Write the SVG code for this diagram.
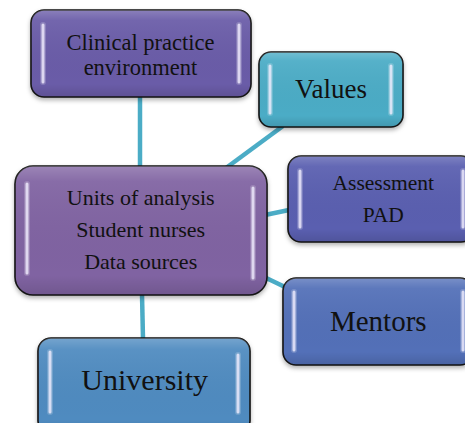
<svg xmlns="http://www.w3.org/2000/svg" width="465" height="423" viewBox="0 0 465 423">
<defs>
<filter id="sh" x="-10%" y="-10%" width="120%" height="130%">
<feDropShadow dx="0" dy="2.5" stdDeviation="2" flood-color="#000" flood-opacity="0.3"/>
</filter>
<linearGradient id="gloss" x1="0" y1="0" x2="0" y2="1">
<stop offset="0" stop-color="#fff" stop-opacity="0.22"/>
<stop offset="0.12" stop-color="#fff" stop-opacity="0.06"/>
<stop offset="0.85" stop-color="#000" stop-opacity="0"/>
<stop offset="1" stop-color="#000" stop-opacity="0.12"/>
</linearGradient>
</defs>
<style>
.box{stroke:#151515;stroke-width:1.6;filter:url(#sh)}
.gl{fill:url(#gloss);stroke:none}
.hl{stroke:#f2eeff;stroke-width:3;stroke-linecap:round;opacity:0.8}
.hl2{stroke:#ffffff;stroke-width:6;stroke-linecap:round;opacity:0.18}
.t{font-family:"Liberation Serif","Times New Roman",serif;fill:#111;text-anchor:middle}
.c{stroke:#4BACC6;stroke-width:4.5;fill:none}
</style>
<g id="connectors">
<line class="c" x1="140" y1="96" x2="140" y2="167"/>
<line class="c" x1="283" y1="126" x2="226" y2="168"/>
<line class="c" x1="265" y1="215" x2="289" y2="210"/>
<line class="c" x1="262" y1="276" x2="285" y2="287"/>
<line class="c" x1="142" y1="294" x2="143" y2="339"/>
</g>
<g id="clinical">
<rect class="box" x="31" y="10" width="220" height="87" rx="13" fill="#6B5CA8"/>
<rect class="gl" x="31" y="10" width="220" height="87" rx="13"/>
<path class="hl2" d="M43 25V82M239 25V82"/>
<path class="hl" d="M43 25V82M239 25V82"/>
<text class="t" x="140.5" y="50" font-size="22.5">Clinical practice</text>
<text class="t" x="140.5" y="74.5" font-size="22.5">environment</text>
</g>
<g id="values">
<rect class="box" x="259" y="52" width="144" height="75" rx="12" fill="#4BACC6"/>
<rect class="gl" x="259" y="52" width="144" height="75" rx="12"/>
<path class="hl2" d="M270 66V113M391 66V113"/>
<path class="hl" d="M270 66V113M391 66V113"/>
<text class="t" x="331" y="98" font-size="27">Values</text>
</g>
<g id="center">
<rect class="box" x="15" y="166" width="252" height="129" rx="18" fill="#8064A2"/>
<rect class="gl" x="15" y="166" width="252" height="129" rx="18"/>
<path class="hl2" d="M27 184V273M253 188V278"/>
<path class="hl" d="M27 184V273M253 188V278"/>
<text class="t" x="140.7" y="205" font-size="22">Units of analysis</text>
<text class="t" x="140.7" y="237" font-size="22">Student nurses</text>
<text class="t" x="140.7" y="269" font-size="22">Data sources</text>
</g>
<g id="assessment">
<rect class="box" x="288" y="156" width="186" height="86" rx="13" fill="#5A5EB0"/>
<rect class="gl" x="288" y="156" width="186" height="86" rx="13"/>
<path class="hl2" d="M300 171V227M463 171V227"/>
<path class="hl" d="M300 171V227M463 171V227"/>
<text class="t" x="383.3" y="190" font-size="21.5">Assessment</text>
<text class="t" x="383.3" y="222" font-size="21.5">PAD</text>
</g>
<g id="mentors">
<rect class="box" x="283" y="278" width="190" height="87" rx="13" fill="#5270B8"/>
<rect class="gl" x="283" y="278" width="190" height="87" rx="13"/>
<path class="hl2" d="M294 292V350M463 292V350"/>
<path class="hl" d="M294 292V350M463 292V350"/>
<text class="t" x="378.3" y="331" font-size="29">Mentors</text>
</g>
<g id="university">
<rect class="box" x="38" y="338" width="212" height="96" rx="13" fill="#4F8BC0"/>
<rect class="gl" x="38" y="338" width="212" height="96" rx="13"/>
<path class="hl2" d="M50 352V412M238 355V412"/>
<path class="hl" d="M50 352V412M238 355V412"/>
<text class="t" x="144.7" y="390" font-size="30">University</text>
</g>
</svg>
